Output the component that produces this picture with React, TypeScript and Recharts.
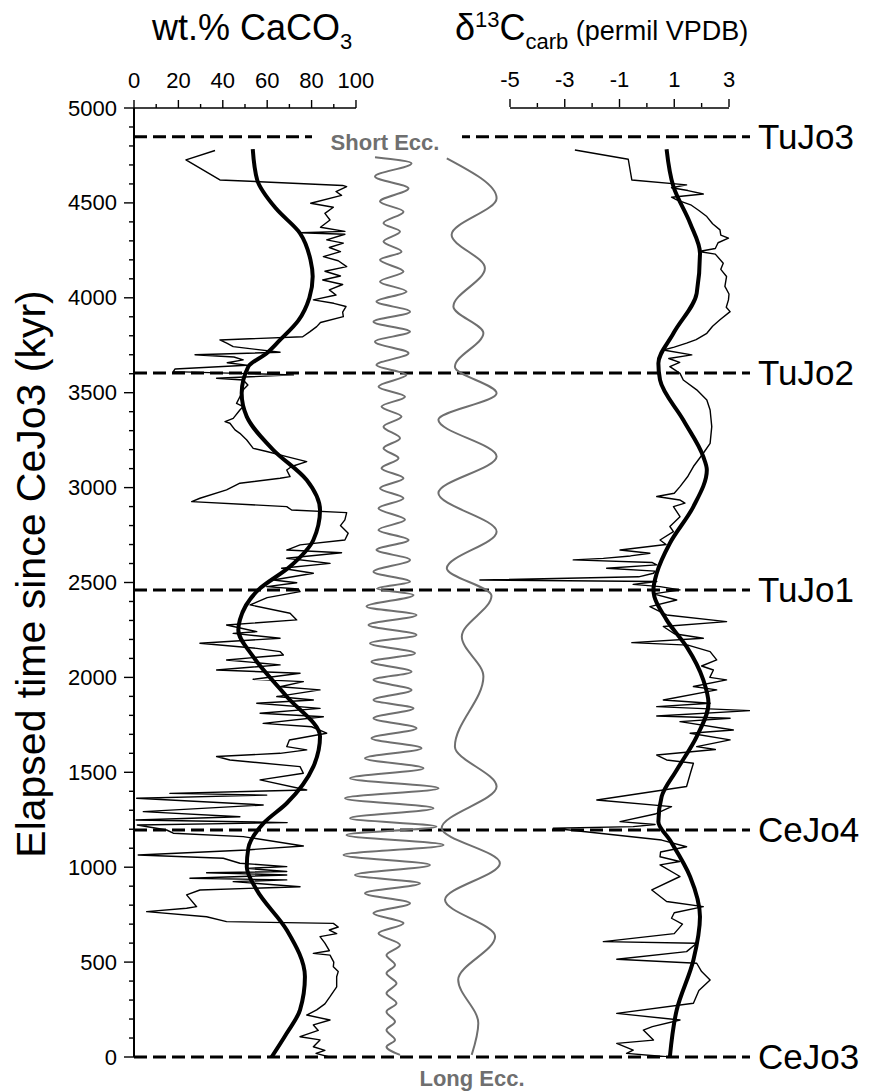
import React from 'react'
import { ScatterChart, Scatter, XAxis, YAxis, ReferenceLine } from 'recharts'

// [elapsed time since CeJo3 (kyr), wt.% CaCO3] — raw record, top to bottom
const caco3Raw: [number, number][] = [
  [4776, 36.5], [4727, 23.4], [4621, 38.7], [4592, 94], [4586, 95.8], [4560, 91], [4540, 93.5],
  [4498, 79.6], [4477, 89.8], [4445, 86], [4410, 88.3], [4372, 84], [4350, 95], [4343, 75],
  [4335, 95], [4305, 86.8], [4288, 94.3], [4265, 88], [4243, 93], [4217, 85.3], [4195, 92],
  [4164, 95.8], [4140, 86], [4115, 93], [4094, 85], [4070, 94], [4042, 88], [4015, 91],
  [3989, 80.8], [3971, 90], [3954, 95.5], [3925, 94], [3901, 94.3], [3870, 84], [3848, 82.3],
  [3822, 79.3], [3795, 76], [3778, 38.7], [3760, 42], [3743, 44.7], [3713, 65.8], [3700, 27.5],
  [3688, 45], [3673, 49.2], [3658, 42], [3645, 50.8], [3625, 18.5], [3611, 17.7], [3594, 71.8],
  [3576, 37.2], [3567, 49.2], [3541, 51.3], [3515, 49.2], [3479, 47.7], [3444, 46.2], [3427, 49.2],
  [3409, 47.7], [3365, 44.7], [3348, 41], [3339, 43.2], [3304, 45.5], [3286, 47.7], [3251, 50.8],
  [3207, 53.7], [3190, 59.8], [3163, 68.8], [3137, 77.8], [3111, 71], [3093, 68.8], [3058, 70.3],
  [3049, 65.8], [3023, 47.7], [2988, 41.7], [2944, 29.7], [2926, 26], [2900, 68.8], [2882, 71],
  [2868, 95.8], [2830, 95], [2800, 93], [2760, 96.5], [2724, 95], [2698, 74.8], [2671, 68.8],
  [2657, 93.5], [2628, 68.8], [2601, 88.3], [2575, 66.5], [2549, 80.8], [2513, 62.8], [2499, 73.3],
  [2478, 59.8], [2466, 74], [2452, 74.8], [2420, 60], [2382, 52.3], [2338, 70.3], [2303, 73.3],
  [2276, 41.7], [2241, 55.3], [2232, 44.7], [2206, 65.8], [2180, 29.7], [2153, 55.3], [2136, 65.8],
  [2118, 67.3], [2092, 41.7], [2066, 65.8], [2039, 37.2], [2022, 74.8], [1990, 53.7], [1978, 76.3],
  [1951, 65.8], [1934, 83.8], [1899, 64.3], [1881, 80.8], [1864, 55.3], [1837, 83.8], [1811, 56.8],
  [1793, 85.3], [1758, 58.2], [1740, 80], [1706, 86.8], [1670, 70], [1635, 68.8], [1618, 77.8],
  [1600, 65.8], [1583, 37.2], [1565, 43.2], [1530, 74.8], [1495, 76.3], [1460, 56.8], [1407, 77.8],
  [1389, 16.2], [1380, 59.8], [1363, 1.2], [1328, 58.2], [1293, 4.2], [1266, 47.7], [1249, 0.9],
  [1235, 69], [1222, 1.5], [1196, 14.7], [1179, 17.7], [1161, 49.2], [1112, 76.3], [1091, 50.8],
  [1064, 1.9], [1047, 40.2], [1021, 47.7], [1003, 68.8], [994, 50.8], [977, 68.8], [971, 32.7],
  [959, 68.8], [942, 25.2], [933, 68.8], [924, 44.7], [897, 74.8], [880, 29.7], [854, 23.7],
  [792, 28.2], [784, 23.7], [766, 5.7], [739, 32.7], [713, 41.7], [704, 89.8], [685, 92], [669, 88],
  [650, 91.3], [634, 83.8], [600, 86], [560, 88], [546, 80.8], [537, 88.3], [500, 90], [476, 89.8],
  [450, 92], [423, 91.3], [370, 91.3], [318, 88.3], [280, 86], [248, 82.3], [221, 77.8], [195, 88.3],
  [169, 80.8], [140, 83], [107, 74.8], [90, 83.8], [54, 80.8], [35, 86], [19, 82], [0, 88],
]

// smoothed CaCO3 trend
const caco3Trend: [number, number][] = [
  [4783, 53.5], [4621, 55.5], [4470, 64], [4340, 74.8], [4200, 79.5], [4112, 80.5], [4000, 79],
  [3880, 74], [3778, 65.8], [3708, 59.8], [3637, 51.5], [3497, 48.5], [3374, 50.8], [3198, 62.8],
  [3040, 77.8], [2882, 83.8], [2724, 80.8], [2584, 70.3], [2461, 56], [2303, 47.7], [2250, 47],
  [2109, 53.7], [1899, 68.8], [1688, 83.8], [1530, 80.8], [1337, 68.8], [1231, 58.3], [1100, 51.5],
  [1003, 50.8], [880, 55.3], [669, 68.8], [423, 77], [248, 74.8], [125, 68.8], [0, 62],
]

// short eccentricity (relative amplitude)
const shortEcc: [number, number][] = [
  [4741, -0.34], [4709, 0.39], [4639, -0.34], [4577, 0.33], [4507, -0.24], [4454, 0.23],
  [4393, -0.17], [4349, 0.16], [4296, -0.17], [4243, 0.19], [4200, -0.24], [4138, 0.23],
  [4085, -0.24], [4033, 0.29], [3980, -0.31], [3927, 0.36], [3874, -0.37], [3822, 0.36],
  [3769, -0.34], [3708, 0.33], [3646, -0.31], [3594, 0.29], [3532, -0.27], [3479, 0.26],
  [3427, -0.21], [3374, 0.19], [3321, -0.17], [3260, 0.16], [3207, -0.17], [3155, 0.13],
  [3102, -0.21], [3049, 0.23], [2997, -0.24], [2944, 0.23], [2891, -0.27], [2830, 0.26],
  [2777, -0.27], [2724, 0.33], [2672, -0.31], [2619, 0.36], [2557, -0.37], [2504, 0.36],
  [2468, -0.3], [2434, 0.43], [2373, -0.51], [2329, 0.49], [2276, -0.47], [2224, 0.49],
  [2180, -0.44], [2127, 0.46], [2083, -0.41], [2030, 0.39], [1987, -0.37], [1934, 0.39],
  [1881, -0.37], [1837, 0.43], [1785, -0.37], [1732, 0.49], [1679, -0.41], [1627, 0.59],
  [1574, -0.54], [1521, 0.63], [1468, -0.84], [1416, 0.93], [1363, -0.94], [1310, 0.83],
  [1258, -0.84], [1214, 0.89], [1170, -0.91], [1117, 1.03], [1064, -0.97], [1012, 0.76],
  [959, -0.74], [915, 0.56], [863, -0.54], [810, 0.36], [757, -0.37], [705, 0.23], [652, -0.27],
  [590, 0.16], [537, -0.11], [485, 0.06], [441, -0.11], [388, 0.09], [336, -0.11], [283, 0.09],
  [239, -0.11], [186, 0.06], [142, -0.11], [90, 0.06], [54, -0.11], [11, 0.16],
]

// long eccentricity (relative amplitude)
const longEcc: [number, number][] = [
  [4735, -0.74], [4525, 0.92], [4332, -0.58], [4156, 0.53], [3954, -0.52], [3814, 0.48],
  [3637, -0.47], [3497, 0.92], [3357, -1.02], [3164, 0.92], [2971, -1.02], [2768, 0.92],
  [2575, -0.74], [2430, 0.75], [2215, -0.24], [2005, 0.48], [1636, -0.47], [1425, 0.92],
  [1206, -0.91], [1021, 1.03], [828, -0.8], [635, 0.87], [407, -0.36], [178, 0.31], [11, 0.09],
]

// [kyr, d13C carb permil VPDB] — raw record
const d13cRaw: [number, number][] = [
  [4779, -2.63], [4730, -0.68], [4621, -0.55], [4595, 1.45], [4580, 0.9], [4565, 1.5], [4547, 2.06],
  [4530, 0.9], [4516, 1.09], [4490, 1.6], [4460, 1.9], [4428, 2.19], [4390, 2.4], [4358, 2.67],
  [4330, 2.7], [4314, 2.98], [4290, 2.6], [4260, 2.5], [4244, 1.9], [4230, 2.5], [4182, 2.79],
  [4150, 2.7], [4112, 2.91], [4060, 2.85], [4020, 3.0], [3989, 2.98], [3950, 2.9], [3927, 3.04],
  [3884, 2.67], [3850, 2.4], [3813, 2.19], [3780, 1.8], [3761, 1.45], [3740, 1.0], [3725, 0.6],
  [3699, 1.64], [3680, 0.8], [3660, 1.2], [3637, 0.84], [3602, 1.21], [3567, 1.33], [3515, 1.82],
  [3462, 2.19], [3409, 2.31], [3321, 2.37], [3233, 2.31], [3181, 2.06], [3111, 1.7], [3060, 1.5],
  [3005, 1.21], [2970, 1.0], [2953, 0.36], [2935, 1.2], [2918, 1.39], [2900, 0.97], [2847, 1.21],
  [2795, 0.84], [2768, 0.97], [2724, 0.48], [2700, 0.7], [2671, -0.98], [2654, 0.11], [2640, -0.6],
  [2627, -1.59], [2619, -2.69], [2605, 0.2], [2593, 0.36], [2575, -1.47], [2560, 0.3], [2549, 0.24],
  [2530, -0.3], [2513, -6.1], [2505, 0.36], [2490, -0.5], [2478, 0.48], [2461, 1.21], [2440, 0.24],
  [2408, 1.09], [2373, 0.11], [2329, 0.72], [2294, 2.91], [2268, 0.6], [2230, 1.0], [2206, 2.06],
  [2183, -0.55], [2170, 1.5], [2136, 2.31], [2092, 2.55], [2060, 2.0], [2039, 2.43], [2000, 2.3],
  [1987, 2.91], [1952, 1.7], [1934, 2.55], [1881, 0.6], [1864, 2.31], [1846, 0.36], [1825, 3.77],
  [1797, 0.36], [1785, 3.04], [1767, 1.21], [1723, 3.16], [1706, 1.58], [1671, 3.04], [1635, 1.82],
  [1620, 2.5], [1591, 0.36], [1565, 0.72], [1548, 1.7], [1500, 1.6], [1425, 1.45], [1354, -1.83],
  [1319, 0.9], [1280, 0.3], [1240, -0.98], [1225, 0.3], [1214, -0.5], [1205, -3.42], [1143, 0.54],
  [1108, 1.45], [1080, 0.5], [1055, 0.48], [1030, 1.2], [1012, 0.48], [951, 1.21], [880, 0.18],
  [819, 0.72], [792, 2.06], [760, 1.0], [731, 0.9], [700, 1.3], [650, 1.0], [608, -1.59], [599, 1.82],
  [555, 1.45], [515, -1.1], [494, 1.82], [450, 2.0], [406, 2.31], [350, 1.9], [283, 1.7], [230, -1.1],
  [195, 1.21], [160, 0.2], [142, -0.13], [89, 0.24], [72, -1.1], [36, -0.5], [19, -0.74], [1, 0.72],
]

// smoothed d13C trend
const d13cTrend: [number, number][] = [
  [4783, 0.72], [4586, 0.97], [4393, 1.58], [4235, 1.94], [4024, 1.82], [3813, 0.97], [3655, 0.42],
  [3567, 0.48], [3356, 1.33], [3163, 2.06], [3093, 2.19], [2900, 1.7], [2707, 0.84], [2549, 0.36],
  [2461, 0.24], [2303, 0.72], [2162, 1.45], [1987, 2.06], [1864, 2.25], [1688, 1.82], [1512, 1.09],
  [1372, 0.54], [1240, 0.42], [1143, 0.84], [950, 1.58], [739, 1.94], [511, 1.7], [248, 1.09], [2, 0.84],
]

const horizonNames = ['TuJo3', 'TuJo2', 'TuJo1', 'CeJo4', 'CeJo3']
const horizonAges = [4848, 3604, 2461, 1196, 0]

const timeTicks = Array.from({ length: 51 }, (_, i) => i * 100)
const caTicks = [0, 10, 20, 30, 40, 50, 60, 70, 80, 90, 100]
const d13cTicks = [-5, -4, -3, -2, -1, 0, 1, 2, 3]

const FONT = '"Liberation Sans", Arial, Helvetica, sans-serif'
const GREY = '#6f6f6f'

const pts = (rows: [number, number][]) => rows.map(([t, v]) => ({ t, v }))
const NoDot = () => null

function TimeTick({ x, y, payload }: any) {
  const major = payload.value % 500 === 0
  return (
    <g>
      <line x1={x - (major ? 10 : 5)} x2={x} y1={y} y2={y} stroke="#000" strokeWidth={1.4} />
      {major && (
        <text x={x - 17} y={y} textAnchor="end" dominantBaseline="central" fontSize={22} fill="#000">
          {payload.value}
        </text>
      )}
    </g>
  )
}

function makeTopTick(isMajor: (v: number) => boolean) {
  return function TopTick({ x, y, payload }: any) {
    const major = isMajor(payload.value)
    return (
      <g>
        <line x1={x} x2={x} y1={y} y2={y - (major ? 8 : 4)} stroke="#000" strokeWidth={1.4} />
        {major && (
          <text x={x} y={y - 20} textAnchor="middle" fontSize={22} fill="#000">
            {payload.value}
          </text>
        )}
      </g>
    )
  }
}
const CaTick = makeTopTick((v) => v % 20 === 0)
const D13cTick = makeTopTick((v) => Math.abs(v) % 2 === 1)

export default function App() {
  return (
    <div style={{ position: 'relative', width: 874, height: 1091, background: '#fff', fontFamily: FONT }}>
      <style>{'body{margin:0}'}</style>
      <ScatterChart width={874} height={1091} margin={{ top: 106, right: 124, bottom: 34, left: 0 }}>
        <XAxis
          xAxisId="ca" type="number" dataKey="v" orientation="top" height={1}
          domain={[0, 277.5]} allowDataOverflow ticks={caTicks} interval={0}
          axisLine={false} tickLine={false} tickSize={0} tickMargin={0} tick={<CaTick />}
        />
        <XAxis
          xAxisId="d13c" type="number" dataKey="v" orientation="top" height={1}
          domain={[-18.735, 3.767]} allowDataOverflow ticks={d13cTicks} interval={0}
          axisLine={false} tickLine={false} tickSize={0} tickMargin={0} tick={<D13cTick />}
        />
        <XAxis xAxisId="short" type="number" dataKey="v" hide domain={[-5.16, 7.16]} allowDataOverflow />
        <XAxis xAxisId="long" type="number" dataKey="v" hide domain={[-11.167, 9.367]} allowDataOverflow />
        <YAxis
          type="number" dataKey="t" domain={[0, 5000]} allowDataOverflow width={134}
          ticks={timeTicks} interval={0} tickSize={0} tickMargin={0} tickLine={false}
          axisLine={{ stroke: '#000', strokeWidth: 2 }} tick={<TimeTick />}
        />

        <ReferenceLine xAxisId="ca" segment={[{ x: 0, y: 5000 }, { x: 100, y: 5000 }]} stroke="#000" strokeWidth={1.6} ifOverflow="visible" />
        <ReferenceLine xAxisId="d13c" segment={[{ x: -5, y: 5000 }, { x: 3, y: 5000 }]} stroke="#000" strokeWidth={1.6} ifOverflow="visible" />

        {horizonAges.map((age, i) => (
          <ReferenceLine
            key={horizonNames[i]}
            xAxisId="ca"
            y={age}
            ifOverflow="visible"
            stroke="#000"
            strokeWidth={3}
            strokeDasharray="13 6"
            label={{ value: horizonNames[i], position: 'right', offset: 8, fill: '#000', fontSize: 35 }}
          />
        ))}

        <Scatter xAxisId="short" data={pts(shortEcc)} shape={NoDot} isAnimationActive={false}
          line={{ stroke: GREY, strokeWidth: 2 }} lineJointType="monotoneY" />
        <Scatter xAxisId="long" data={pts(longEcc)} shape={NoDot} isAnimationActive={false}
          line={{ stroke: GREY, strokeWidth: 2 }} lineJointType="monotoneY" />
        <Scatter xAxisId="ca" data={pts(caco3Raw)} shape={NoDot} isAnimationActive={false}
          line={{ stroke: '#000', strokeWidth: 1.4, strokeLinejoin: 'round' }} lineJointType="linear" />
        <Scatter xAxisId="ca" data={pts(caco3Trend)} shape={NoDot} isAnimationActive={false}
          line={{ stroke: '#000', strokeWidth: 4 }} lineJointType="monotoneY" />
        <Scatter xAxisId="d13c" data={pts(d13cRaw)} shape={NoDot} isAnimationActive={false}
          line={{ stroke: '#000', strokeWidth: 1.4, strokeLinejoin: 'round' }} lineJointType="linear" />
        <Scatter xAxisId="d13c" data={pts(d13cTrend)} shape={NoDot} isAnimationActive={false}
          line={{ stroke: '#000', strokeWidth: 4 }} lineJointType="monotoneY" />
      </ScatterChart>

      <svg width={874} height={1091} style={{ position: 'absolute', left: 0, top: 0, pointerEvents: 'none' }}>
        <text x={152} y={40} fontSize={36} fill="#000">
          wt.% CaCO<tspan dy={9} fontSize={22}>3</tspan>
        </text>
        <text x={455} y={40} fontSize={36} fill="#000">
          δ<tspan dy={-13} fontSize={22}>13</tspan>
          <tspan dy={13}>C</tspan>
          <tspan dy={9} fontSize={22}>carb</tspan>
          <tspan dy={-9} fontSize={27}> (permil VPDB)</tspan>
        </text>
        <text
          transform="translate(31 574) rotate(-90)"
          textAnchor="middle" dominantBaseline="central" fontSize={41} fill="#000"
        >
          Elapsed time since CeJo3 (kyr)
        </text>
        <rect x={312} y={130} width={150} height={14} fill="#fff" />
        <text x={385} y={150} textAnchor="middle" fontSize={22} fontWeight="bold" fill={GREY}>Short Ecc.</text>
        <text x={472} y={1086} textAnchor="middle" fontSize={22} fontWeight="bold" fill={GREY}>Long Ecc.</text>
      </svg>
    </div>
  )
}
